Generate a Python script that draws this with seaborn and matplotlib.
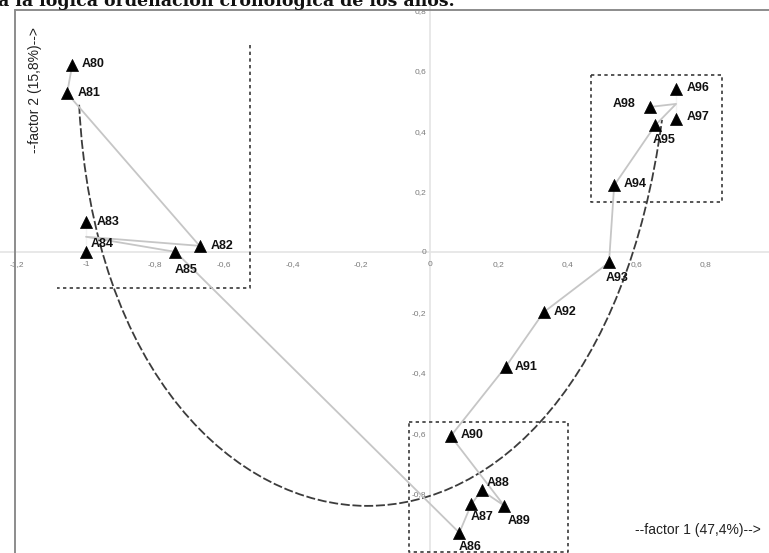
import matplotlib
matplotlib.use('Agg')
import pandas as pd
import matplotlib.pyplot as plt
import seaborn as sns
from matplotlib.path import Path
from matplotlib.patches import PathPatch
from matplotlib.ticker import FuncFormatter

# Coordenadas de los años en el plano factorial
anos = ['A80', 'A81', 'A82', 'A83', 'A84', 'A85', 'A86', 'A87', 'A88', 'A89',
        'A90', 'A91', 'A92', 'A93', 'A94', 'A95', 'A96', 'A97', 'A98']
factor1 = [-1.04, -1.055, -0.67, -1.0, -1.0, -0.74, 0.085, 0.12, 0.15, 0.215,
           0.06, 0.22, 0.33, 0.52, 0.535, 0.655, 0.715, 0.715, 0.64]
factor2 = [0.62, 0.525, 0.02, 0.10, 0.0, 0.0, -0.93, -0.835, -0.79, -0.84,
           -0.61, -0.38, -0.20, -0.035, 0.22, 0.42, 0.54, 0.44, 0.48]

xticks = [-1.2, -1.0, -0.8, -0.6, -0.4, -0.2, 0, 0.2, 0.4, 0.6, 0.8]
yticks = [-0.8, -0.6, -0.4, -0.2, 0, 0.2, 0.4, 0.6, 0.8]

# Recuadros punteados (grupos de años)
caja_izq_x = [-0.523, -0.523, -1.084]
caja_izq_y = [0.685, -0.119, -0.119]
caja_der_x = [0.468, 0.849, 0.849, 0.468, 0.468]
caja_der_y = [0.586, 0.586, 0.166, 0.166, 0.586]
caja_inf_x = [-0.061, 0.401, 0.401, -0.061, -0.061]
caja_inf_y = [-0.563, -0.563, -0.993, -0.993, -0.563]

# Curva de tendencia (puntos de control)
curva_x = [-1.020, -0.981, -0.561, -0.183, 0.195, 0.573, 0.674]
curva_y = [0.487, -0.407, -0.841, -0.841, -0.841, -0.424, 0.437]

# posición de cada etiqueta respecto al marcador (px)
etiquetas = {
    'A80': (9, 1, 'left'), 'A81': (11, 0, 'left'), 'A82': (11, 0, 'left'),
    'A83': (11, 0, 'left'), 'A84': (5, 8, 'left'), 'A85': (-1, -18, 'left'),
    'A86': (-1, -14, 'left'), 'A87': (-1, -13, 'left'), 'A88': (5, 7, 'left'),
    'A89': (4, -15, 'left'), 'A90': (10, 1, 'left'), 'A91': (9, 0, 'left'),
    'A92': (10, 0, 'left'), 'A93': (-3, -16, 'left'), 'A94': (10, 1, 'left'),
    'A95': (-3, -15, 'left'), 'A96': (11, 1, 'left'), 'A97': (11, 2, 'left'),
    'A98': (-15, 3, 'right'),
}

df = pd.DataFrame({'ano': anos, 'f1': factor1, 'f2': factor2})

sns.set_theme(style='white')
plt.rcParams['font.family'] = ['Liberation Sans', 'DejaVu Sans']

fig = plt.figure(figsize=(7.69, 5.53), dpi=100)
ax = fig.add_axes([0, 0, 1, 1])
ax.set_xlim(-1.25, 0.985)
ax.set_ylim(-0.997, 0.834)

# ejes que pasan por el origen
for lado in ['right', 'top']:
    ax.spines[lado].set_visible(False)
for lado in ['left', 'bottom']:
    ax.spines[lado].set_position(('data', 0))
    ax.spines[lado].set_color('#e4e4e4')
    ax.spines[lado].set_linewidth(1.2)
    ax.spines[lado].set_zorder(0)

# marco exterior
ax.plot([-1.206, -1.206], [-1.0, 0.8], color='#8c8c8c', lw=1.4, clip_on=False)
ax.plot([-1.206, 0.985], [0.8, 0.8], color='#8c8c8c', lw=1.4, clip_on=False)

fmt = FuncFormatter(lambda v, p: f"{v:g}".replace('.', ',') if abs(v) > 1e-9 else '0')
ax.set_xticks(xticks)
ax.set_yticks(yticks)
ax.xaxis.set_major_formatter(fmt)
ax.yaxis.set_major_formatter(fmt)
ax.tick_params(axis='x', length=0, pad=6.5, labelsize=6, labelcolor='#7a7a7a')
ax.tick_params(axis='y', length=0, pad=3, labelsize=6, labelcolor='#7a7a7a')

# recuadros
estilo_caja = dict(color='#3a3a3a', lw=1.2, linestyle=(0, (2, 2)))
ax.plot(caja_izq_x, caja_izq_y, **estilo_caja)
ax.plot(caja_der_x, caja_der_y, **estilo_caja)
ax.plot(caja_inf_x, caja_inf_y, **estilo_caja)

# curva de tendencia
codigos = [Path.MOVETO] + [Path.CURVE4] * 6
curva = PathPatch(Path(list(zip(curva_x, curva_y)), codigos), fill=False,
                  edgecolor='#3c3c3c', lw=1.3, linestyle=(0, (5, 1.5)), zorder=2)
ax.add_patch(curva)

# trayectoria cronológica
sns.lineplot(data=df, x='f1', y='f2', sort=False, color='#c6c6c6', lw=1.3,
             ax=ax, zorder=3, legend=False)
sns.scatterplot(data=df, x='f1', y='f2', marker='^', s=75, color='black',
                edgecolor='black', linewidth=0.5, ax=ax, zorder=4, legend=False)
ax.set_xlabel('')
ax.set_ylabel('')

for _, fila in df.iterrows():
    dx, dy, ha = etiquetas[fila['ano']]
    ax.annotate(fila['ano'], (fila['f1'], fila['f2']), xytext=(dx, dy),
                textcoords='offset pixels', ha=ha, va='center',
                fontsize=9, fontweight='bold', color='#111111', zorder=5)

# títulos de los factores
fig.text(35 / 769, 1 - 90 / 553, '--factor 2 (15,8%)-->', rotation=90,
         ha='center', va='center', fontsize=10, color='#222222')
fig.text(698 / 769, 1 - 530 / 553, '--factor 1 (47,4%)-->',
         ha='center', va='center', fontsize=10, color='#222222')

# línea de texto del documento (cortada por arriba)
fig.text(-0.002, 1 - 6 / 553, 'a la lógica ordenación cronológica de los años.',
         ha='left', va='baseline', fontsize=12.5, fontweight='bold',
         family=['DejaVu Serif'], color='#111111')

fig.savefig('out.png', dpi=100)
